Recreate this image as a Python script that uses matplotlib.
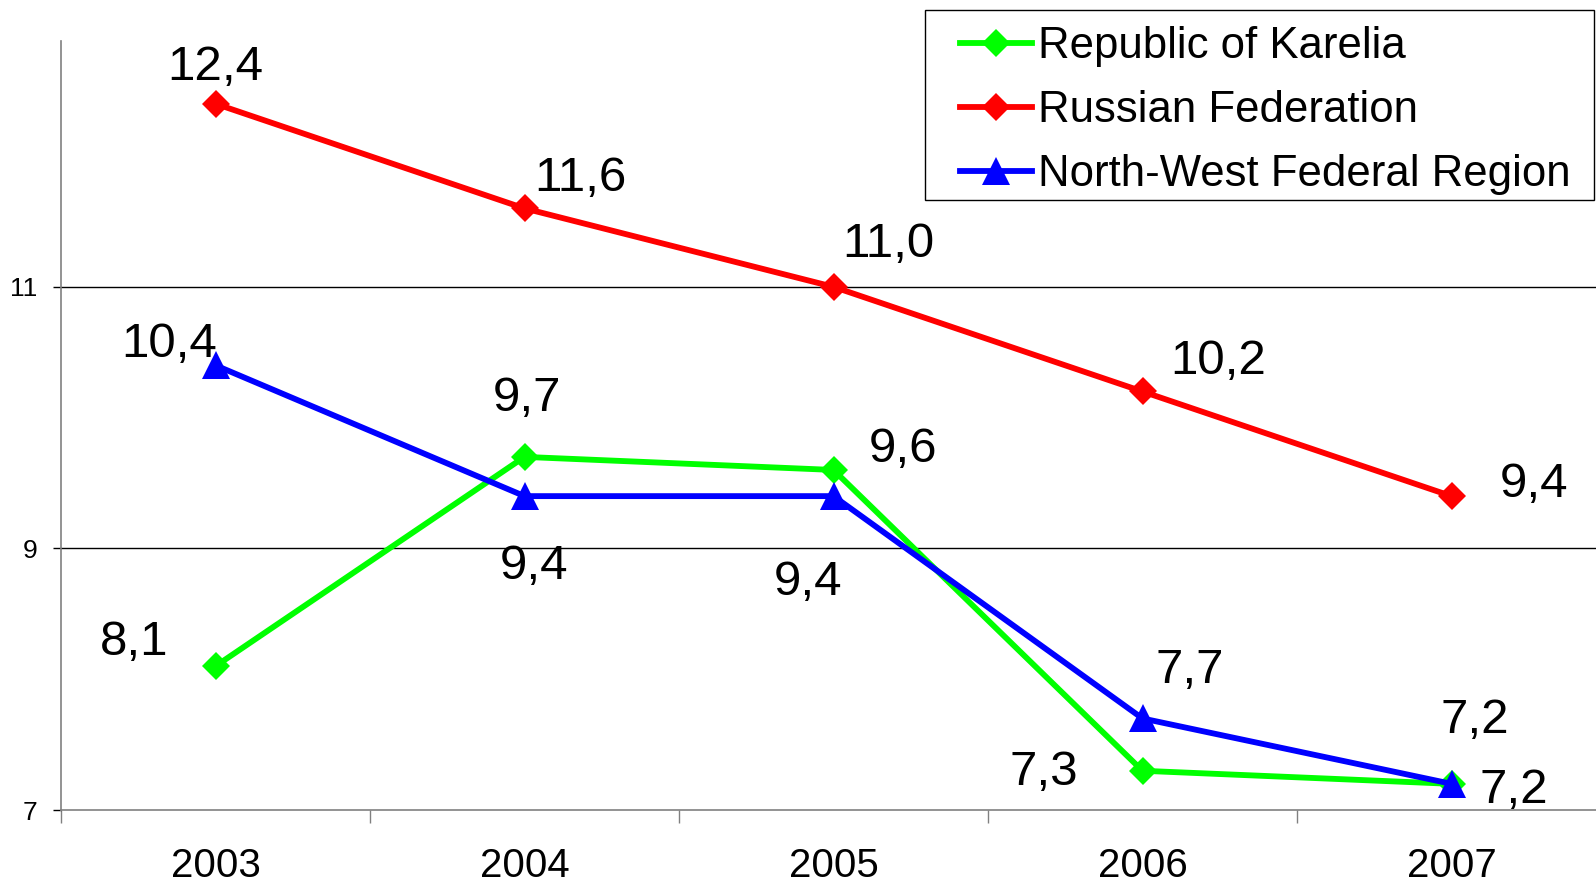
import matplotlib
matplotlib.use("Agg")
import matplotlib.pyplot as plt
from matplotlib.patches import Rectangle

plt.rcParams['font.family'] = ['Liberation Sans', 'DejaVu Sans']

years = ["2003", "2004", "2005", "2006", "2007"]
karelia = [8.1, 9.7, 9.6, 7.3, 7.2]
russia = [12.4, 11.6, 11.0, 10.2, 9.4]
northwest = [10.4, 9.4, 9.4, 7.7, 7.2]
series_names = ["Republic of Karelia", "Russian Federation", "North-West Federal Region"]
yticks = [7, 9, 11]

# label offsets in pixels (dx, dy)
off_karelia = [(-81, 29), (2, 63), (69, 25), (-99, 3), (62, -2)]
off_russia = [(0, 41), (56, 35), (55, 47), (76, 35), (83, 17)]
off_nw = [(-46, 26), (10, -65), (-25, -81), (47, 53), (23, 68)]

W, H = 1596, 885
fig = plt.figure(figsize=(W / 100, H / 100), dpi=100)
ax = fig.add_axes([61 / W, 1 - 810 / H, 1545 / W, 769 / H])

x = list(range(len(years)))
l1, = ax.plot(x, karelia, color='#00FF00', lw=4.2, marker='D', ms=14.5, mew=0, zorder=3)
l2, = ax.plot(x, russia, color='#FF0000', lw=4.2, marker='D', ms=14.5, mew=0, zorder=3)
l3, = ax.plot(x, northwest, color='#0000FF', lw=4.2, marker='^', ms=20, mew=0, zorder=4)

def fmt(v):
    return f"{v:.1f}".replace('.', ',')

for vals, offs in ((karelia, off_karelia), (russia, off_russia), (northwest, off_nw)):
    for xi, v, (dx, dy) in zip(x, vals, offs):
        ax.annotate(fmt(v), (xi, v), xytext=(dx, dy), textcoords='offset pixels',
                    ha='center', va='center_baseline', fontsize=35.5, color='black', zorder=5)

ax.set_xlim(-0.5, len(years) - 0.5)
ax.set_ylim(7, 12.88)
ax.set_xticks(x)
ax.set_xticklabels(years, fontsize=29)
ax.set_xticks([i - 0.5 for i in range(len(years) + 1)], minor=True)
ax.tick_params(axis='x', which='major', length=0, pad=26.5)
ax.tick_params(axis='x', which='minor', length=9, width=1, color='#808080', direction='out')
ax.set_yticks(yticks)
ax.set_yticklabels([str(t) for t in yticks], fontsize=19)
ax.tick_params(axis='y', length=6, width=1, color='black', pad=11, direction='out')

for yv in yticks[1:]:
    ax.axhline(yv, color='black', lw=1, zorder=1)

for s in ('top', 'right'):
    ax.spines[s].set_visible(False)
ax.spines['left'].set_color('#808080')
ax.spines['bottom'].set_color('#808080')
ax.spines['left'].set_linewidth(1.2)
ax.spines['bottom'].set_linewidth(1.2)

# legend box
fig.patches.append(Rectangle((925 / W, 1 - 200 / H), (1594 - 925) / W, 190 / H,
                             transform=fig.transFigure, facecolor='white',
                             edgecolor='black', lw=1, zorder=10))
leg = fig.legend([l1, l2, l3], series_names, loc='upper left',
                 bbox_to_anchor=(960 / W, 1 - 26 / H), frameon=False,
                 fontsize=31.5, handlelength=1.65, handletextpad=0.14,
                 labelspacing=0.53, borderpad=0, borderaxespad=0)
leg.set_zorder(11)

fig.savefig("out.png", dpi=100)
